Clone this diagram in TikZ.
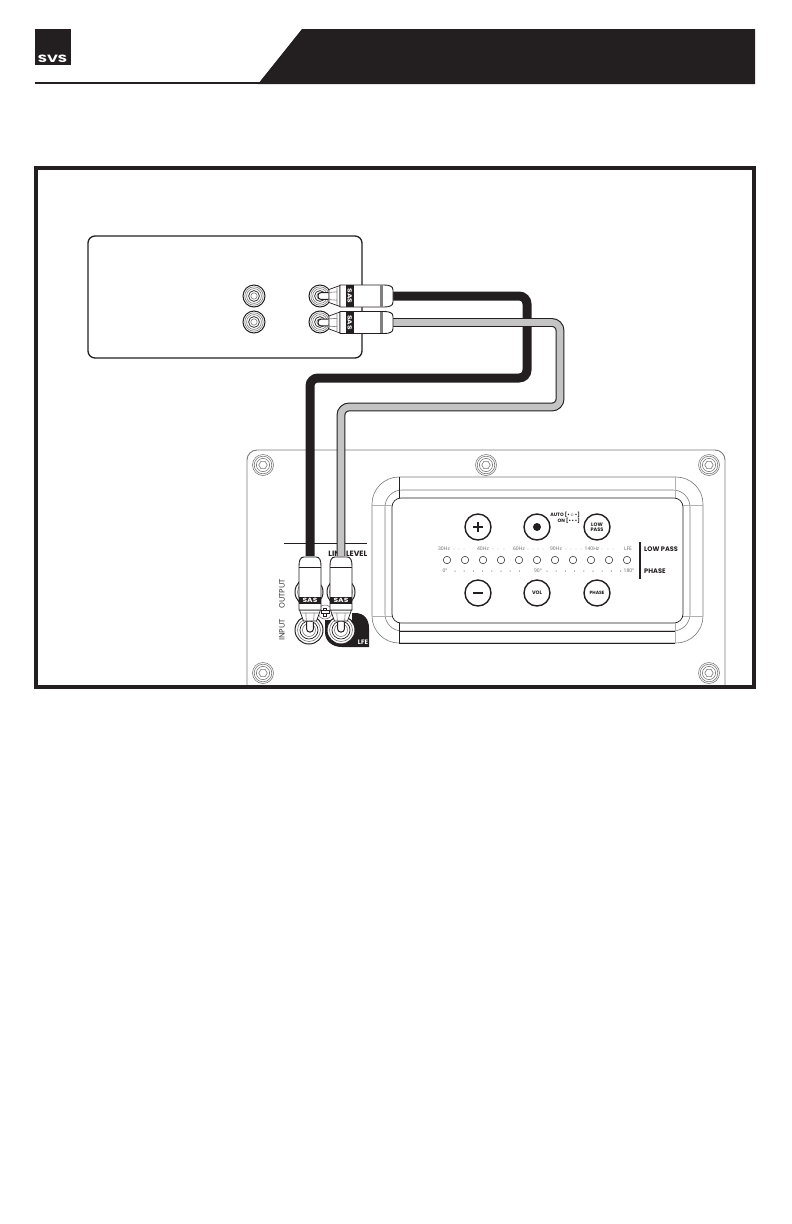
\documentclass[tikz,border=0pt]{standalone}
\usepackage{fontspec}
\setmainfont{Open Sans}
\newfontfamily\popb{Poppins}[UprightFont=* Bold]
\usetikzlibrary{calc}
\definecolor{ink}{HTML}{231F20}
\definecolor{cablegray}{HTML}{C4C4C4}
\definecolor{bandgray}{HTML}{808080}
\definecolor{edgegray}{HTML}{7A7A7A}
\tikzset{
  x=1pt,y=-1pt,
  thinline/.style={draw=ink,line width=0.7pt},
  grayline/.style={draw=edgegray,line width=0.6pt},
  lightline/.style={draw=edgegray!60,line width=0.5pt},
  btn/.style={circle,draw=ink,line width=1.4pt,fill=white,minimum size=26pt,inner sep=0pt,align=center,text=ink},
  led/.style={circle,draw=ink,line width=0.5pt,fill=white,minimum size=7.5pt,inner sep=0pt},
  tiny/.style={font=\fontsize{5}{5}\selectfont,text=ink!70,inner sep=0pt},
  boldlab/.style={font=\popb\fontsize{6.6}{6.6}\selectfont,text=ink,inner sep=0pt},
  btnlab/.style={font=\popb\fontsize{5}{5.4}\selectfont},
  sidelab/.style={font=\fontsize{7.5}{7.5}\selectfont,text=ink,rotate=90,inner sep=0pt},
  blackcable/.style={draw=ink,line width=9pt,rounded corners=8pt},
  graycable/.style={draw=ink,line width=1.1pt,double=cablegray,double distance=6.6pt,rounded corners=8pt},
  screw/.pic={
    \draw[grayline,fill=white] (0,0) circle[radius=10.5];
    \draw[grayline] (0,0) circle[radius=8.8];
    \draw[grayline] (0,0) circle[radius=6.6];
    \draw[grayline] (0:4.2)--(60:4.2)--(120:4.2)--(180:4.2)--(240:4.2)--(300:4.2)--cycle;
  },
  smalljack/.pic={
    \draw[thinline,line width=1pt,fill=white] (0,0) circle[radius=11];
    \draw[grayline] (0,0) circle[radius=9.2];
    \draw[grayline] (0,0) circle[radius=7.4];
    \draw[thinline] (0,0) circle[radius=5.4];
    \draw[grayline] (0,0) circle[radius=3.2];
  },
  bigjack/.pic={
    \draw[thinline,line width=1pt,fill=white] (0,0) circle[radius=14];
    \draw[grayline] (0,0) circle[radius=11.5];
    \draw[thinline] (0,0) circle[radius=9];
    \draw[grayline] (0,0) circle[radius=6.5];
  },
  rcaplug/.pic={
    % pin
    \draw[thinline,line width=1pt,fill=white,rounded corners=3pt] (8,-3.4) -- (-2,-3.4) -- (-2,3.4) -- (8,3.4);
    % collar
    \draw[thinline,fill=white] (9,-6.5) -- (20,-10.5) -- (20,10.5) -- (9,6.5) -- cycle;
    \draw[grayline] (9,-3.6) -- (17,-4.2) (9,3.6) -- (17,4.2) (17,-8.5) -- (17,8.5);
    % body
    \draw[thinline,line width=0.9pt,fill=white]
       (20,-11) -- (64,-11) .. controls (70,-11) and (73,-9.5) .. (73,-6) -- (73,6) .. controls (73,9.5) and (70,11) .. (64,11) -- (20,11) -- cycle;
    \fill[ink] (26,-10.6) rectangle (33.5,10.6);
    \node (-sas) at (29.7,0) [rotate=-90,transform shape,xscale=1.25,font=\popb\fontsize{6}{6}\selectfont,text=white,inner sep=0pt] {SAS};
  }
}
\begin{document}
\begin{tikzpicture}
\useasboundingbox (0,0) rectangle (792,1224);
% header
\fill[ink] (35,29) rectangle (71,65);
\node (logo) at (52.5,58.3) [xscale=1.5,yscale=1.05,font=\popb\fontsize{10}{10}\selectfont,text=white,inner sep=0pt] {SVS};
\fill[ink] (258,84) -- (302,29) -- (755,29) -- (755,84) -- cycle;
\draw[ink,line width=1.6pt] (35,83) -- (260,83);

% source box
\draw[ink,line width=1.3pt,rounded corners=7pt] (88,236) rectangle (362,358);
\pic at (254,296) {smalljack};
\pic at (254,322) {smalljack};
\pic at (320,296) {smalljack};
\pic at (320,322) {smalljack};

% subwoofer panel
\draw[grayline,line width=0.9pt,rounded corners=10pt] (247,688) -- (247,450) -- (725,450) -- (725,688);
\foreach \x/\y in {263/465,486/465,709/465,263/673,709/673} \pic at (\x,\y) {screw};

% recess
\draw[grayline,rounded corners=27pt] (372,477) rectangle (703,643);
\draw[grayline,rounded corners=17pt] (385,490) rectangle (690,631);
\draw[thinline,rounded corners=9pt] (392,498) rectangle (683,623);
\draw[thinline] (399,643) -- (675,643) (399,631) -- (675,631);
\draw[thinline] (399,477) -- (399,498) (399,643) -- (399,623);
\draw[lightline] (675,477) -- (675,498) (675,643) -- (675,623);
\draw[lightline] (372,505) -- (392,505) (683,505) -- (703,505) (372,616) -- (392,616) (683,616) -- (703,616);

% buttons
\node[btn] (plusb) at (478,527) {};
\fill[ink] ($(plusb.center)+(-5,-1.1)$) rectangle ($(plusb.center)+(5,1.1)$);
\fill[ink] ($(plusb.center)+(-1.1,-5)$) rectangle ($(plusb.center)+(1.1,5)$);
\node[btn] (dotb) at (537,527) {};
\fill[ink] (dotb.center) circle[radius=4];
\node[btn,btnlab] (lowb) at (597,527) {LOW\\PASS};
\node[btn] (minusb) at (478,593) {};
\fill[ink] ($(minusb.center)+(-4.8,-1.1)$) rectangle ($(minusb.center)+(4.8,1.1)$);
\node[btn,btnlab] (volb) at (537,593) {VOL};
\node[btn,btnlab,font=\popb\fontsize{4.6}{5}\selectfont] (phaseb) at (597,593) {PHASE};
\node[anchor=east,font=\popb\fontsize{4.8}{4.8}\selectfont,inner sep=0pt,text=ink] (autol) at (580,515) {AUTO [\textbullet\,$\circ$\,\textbullet]};
\node[anchor=east,font=\popb\fontsize{4.8}{4.8}\selectfont,inner sep=0pt,text=ink] (onl) at (580,520.5) {ON [\textbullet\,\textbullet\,\textbullet]};

% scale
\foreach \t/\x in {30Hz/444,40Hz/483,60Hz/519,90Hz/556,140Hz/592,LFE/628}
  \node[tiny] (f\x) at (\x,549) {\t};
\foreach \x in {454,459,464,493,498,504,528,533,538,543,566,571,576,581,602,608,613}
  \fill[ink!70] (\x,549) circle[radius=0.45];
\foreach \i in {0,...,10}
  \node[led] (led\i) at (447+18*\i,560) {};
\node[tiny] (p0) at (445,571) {0°};
\node[tiny] (p90) at (538,571) {90°};
\node[tiny] (p180) at (629,571) {180°};
\foreach \i in {0,...,7}
  \fill[ink] (455+9.2*\i,571) circle[radius=0.5];
\foreach \i in {0,...,8}
  \fill[ink] (547+9.2*\i,571) circle[radius=0.5];
\draw[ink,line width=1.5pt] (640,542) -- (640,579);
\node[boldlab,anchor=west] (lplab) at (644,549) {LOW PASS};
\node[boldlab,anchor=west] (phlab) at (644,571) {PHASE};

% connection block
\draw[thinline] (284,543) -- (367,543);
\node[boldlab,anchor=east,font=\popb\fontsize{7.7}{7.7}\selectfont] (linelevel) at (367.5,554) {LINE LEVEL};
\node[sidelab] (outl) at (282,594) {OUTPUT};
\node[sidelab] (inl) at (282,630) {INPUT};
\pic at (309,592) {bigjack};
\pic at (341,592) {bigjack};
\draw[grayline,fill=white] (325,612) circle[radius=7];
\draw[ink,line width=0.5pt,fill=white] (323.5,608) rectangle (326.5,616);
\draw[ink,line width=0.5pt,fill=white] (321,610.5) rectangle (329,613.5);
\fill[white] (323.8,610.8) rectangle (326.2,613.2);
\fill[ink] (352,613) -- (355,613) .. controls (364,613) and (369,619) .. (369,628) -- (369,647) -- (342,647) .. controls (332,647) and (325,641) .. (325,632) -- (325,620) -- (352,620) -- cycle;
\node[font=\popb\fontsize{6.4}{6.4}\selectfont,text=white,inner sep=0pt] (lfe) at (363,642) {LFE};
\pic at (309,630) {bigjack};
\pic at (341,630) {bigjack};

% cables
\coordinate (blackA) at (393,296);
\coordinate (blackB) at (527,378);
\coordinate (blackC) at (310,556);
\coordinate (grayA) at (393,322.5);
\coordinate (grayB) at (560,407);
\coordinate (grayC) at (341,556);
\draw[blackcable] (blackA) -| (blackB) -| (blackC);
\draw[graycable] (grayA) -| (grayB) -| (grayC);

% plugs
\pic (p1) at (320,296) {rcaplug};
\pic (p2) at (320,322.5) {rcaplug};
\pic (p3) [rotate=90] at (310,630) {rcaplug};
\pic (p4) [rotate=90] at (341,630) {rcaplug};
% bands near the cable end of each plug
\fill[bandgray] (380,285.4) rectangle (383.4,306.6);
\fill[bandgray] (380,311.9) rectangle (383.4,333.1);
\draw[thinline] (299,567) -- (321,567) (330,567) -- (352,567);

% frame
\draw[ink,line width=4pt] (36,168) rectangle (754,687);
\end{tikzpicture}
\end{document}
